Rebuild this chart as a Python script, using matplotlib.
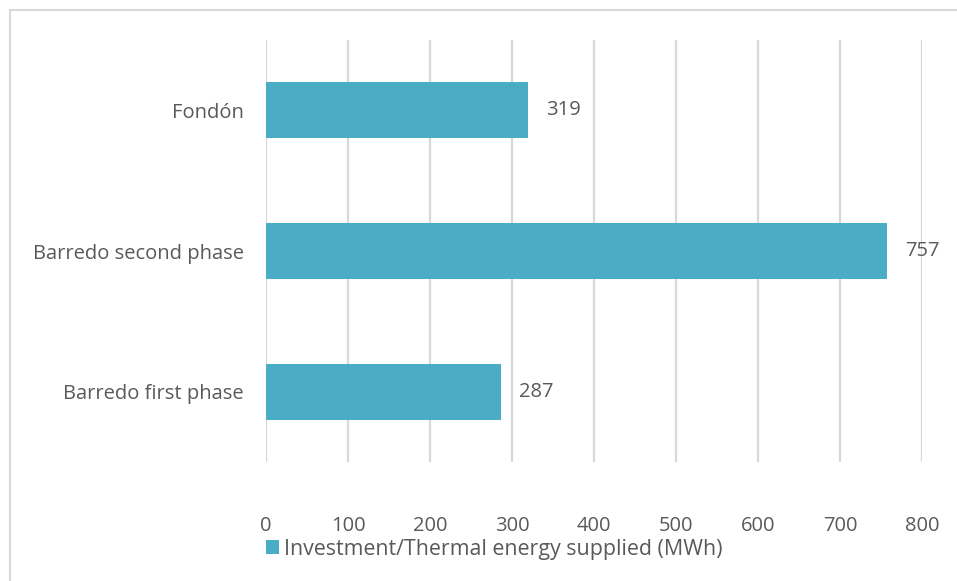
import matplotlib.pyplot as plt
from matplotlib.patches import Rectangle

categories = ['Barredo first phase', 'Barredo second phase', 'Fondón']
values = [287, 757, 319]
legend_label = 'Investment/Thermal energy supplied (MWh)'
xticks = [0, 100, 200, 300, 400, 500, 600, 700, 800]

bar_color = '#4bacc6'
text_color = '#595959'
grid_color = '#d9d9d9'
fs = 14.5

plt.rcParams['font.family'] = ['Open Sans', 'DejaVu Sans']

W, H = 957, 581
fig = plt.figure(figsize=(W / 100, H / 100), dpi=100)
ax = fig.add_axes([266 / W, 1 - 462 / H, (922 - 266) / W, (462 - 40) / H])

pos = range(len(categories))
bars = ax.barh(pos, values, height=0.40, color=bar_color, zorder=3,
               label=legend_label)
for b, v in zip(bars, values):
    ax.text(v + 22, b.get_y() + b.get_height() / 2, str(v), va='center',
            ha='left', fontsize=fs, color=text_color, zorder=4)

ax.set_xlim(0, 800)
ax.set_ylim(-0.5, 2.5)
ax.set_yticks(list(pos))
ax.set_yticklabels(categories, fontsize=fs, color=text_color)
ax.set_xticks(xticks)
ax.set_xticklabels([str(t) for t in xticks], fontsize=fs, color=text_color)
ax.tick_params(axis='both', length=0)
ax.tick_params(axis='y', pad=16)
ax.tick_params(axis='x', pad=39)
ax.grid(axis='x', color=grid_color, linewidth=1.6, zorder=0)
for s in ax.spines.values():
    s.set_visible(False)

fig.legend(loc='center left', bbox_to_anchor=(266 / W, 1 - 549 / H),
           frameon=False, fontsize=15.4, labelcolor=text_color,
           handlelength=0.6, handleheight=0.6, handletextpad=0.25,
           borderaxespad=0, borderpad=0)

# light frame around the chart area
fig.patches.append(Rectangle((10 / W, -0.01), 1.0, 1 - 10 / H + 0.01,
                             transform=fig.transFigure, fill=False,
                             edgecolor=grid_color, linewidth=1.5))

fig.savefig('out.png', dpi=100)
